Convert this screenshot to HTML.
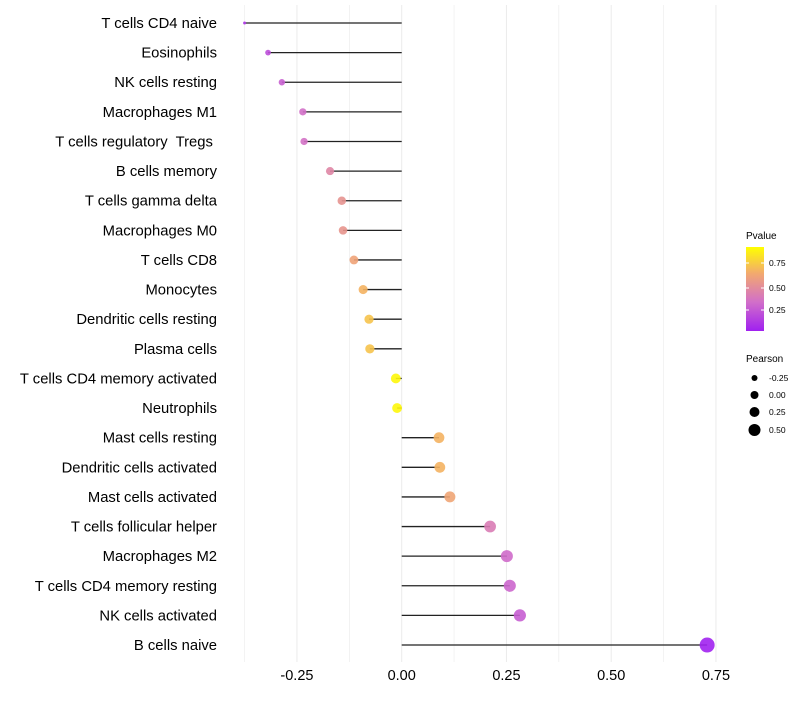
<!DOCTYPE html>
<html><head><meta charset="utf-8"><style>
body{margin:0;background:#fff;font-family:"Liberation Sans",sans-serif;}
text{white-space:pre;}
</style></head><body>
<svg id="chart" width="800" height="700" xmlns="http://www.w3.org/2000/svg">
<defs><linearGradient id="pg" x1="0" y1="1" x2="0" y2="0">
<stop offset="0" stop-color="#a020f0"/><stop offset="0.35" stop-color="#d270c8"/><stop offset="0.68" stop-color="#f2a870"/><stop offset="1" stop-color="#ffff00"/></linearGradient></defs>
<g id="grid"></g><g id="marks"></g><g id="labels"></g>
<g font-size="10">
<text x="746" y="239" fill="#000">Pvalue</text>
<rect x="746" y="247" width="18" height="84" fill="url(#pg)"/>
<line x1="746" y1="263" x2="749" y2="263" stroke="#fff"/><line x1="761" y1="263" x2="764" y2="263" stroke="#fff"/>
<line x1="746" y1="288" x2="749" y2="288" stroke="#fff"/><line x1="761" y1="288" x2="764" y2="288" stroke="#fff"/>
<line x1="746" y1="310" x2="749" y2="310" stroke="#fff"/><line x1="761" y1="310" x2="764" y2="310" stroke="#fff"/>
<text x="769" y="266" font-size="8.5">0.75</text><text x="769" y="291" font-size="8.5">0.50</text><text x="769" y="313" font-size="8.5">0.25</text>
</g>
<g font-size="10">
<text x="746" y="362" fill="#000">Pearson</text>
<circle cx="754.5" cy="378" r="3"/><text x="769" y="381" font-size="8.5">-0.25</text>
<circle cx="754.5" cy="395" r="4"/><text x="769" y="398" font-size="8.5">0.00</text>
<circle cx="754.5" cy="412" r="5"/><text x="769" y="415" font-size="8.5">0.25</text>
<circle cx="754.5" cy="430" r="6"/><text x="769" y="433" font-size="8.5">0.50</text>
</g>
</svg>
<script>
const categories=["T cells CD4 naive","Eosinophils","NK cells resting","Macrophages M1","T cells regulatory  Tregs ","B cells memory","T cells gamma delta","Macrophages M0","T cells CD8","Monocytes","Dendritic cells resting","Plasma cells","T cells CD4 memory activated","Neutrophils","Mast cells resting","Dendritic cells activated","Mast cells activated","T cells follicular helper","Macrophages M2","T cells CD4 memory resting","NK cells activated","B cells naive"];
const pearson=[-0.375,-0.319,-0.286,-0.236,-0.233,-0.171,-0.143,-0.14,-0.114,-0.092,-0.078,-0.076,-0.014,-0.011,0.089,0.091,0.115,0.211,0.251,0.258,0.282,0.729];
const pvalue=[0.1,0.2,0.28,0.35,0.36,0.48,0.56,0.57,0.65,0.72,0.78,0.78,0.97,0.97,0.72,0.72,0.66,0.42,0.33,0.31,0.27,0.01];
const xTicks=[-0.25,0,0.25,0.5,0.75];
const xTickLabels=["-0.25","0.00","0.25","0.50","0.75"];
const NS="http://www.w3.org/2000/svg";
const x=v=>401.7+v*419;
const y=i=>23+i*29.62;
const stops=[[0,[160,32,240]],[0.35,[210,112,200]],[0.68,[242,168,112]],[1,[255,255,0]]];
function col(p){for(let k=1;k<stops.length;k++){if(p<=stops[k][0]){const a=stops[k-1],b=stops[k],t=(p-a[0])/(b[0]-a[0]);return "rgb("+a[1].map((c,j)=>Math.round(c+(b[1][j]-c)*t)).join(",")+")";}}return "rgb(255,255,0)";}
const mn=Math.min(...pearson),mx=Math.max(...pearson);
const rad=v=>1.5+6*Math.sqrt((v-mn)/(mx-mn));
function el(t,a,p){const e=document.createElementNS(NS,t);for(const k in a)e.setAttribute(k,a[k]);p.appendChild(e);return e;}
const grid=document.getElementById('grid'),marks=document.getElementById('marks'),labels=document.getElementById('labels');
for(let v=-0.375;v<=0.76;v+=0.125){const g=el('line',{x1:x(v),x2:x(v),y1:5,y2:662,stroke:'#ebebeb','stroke-width':Math.abs((v*8)%2)<0.01?1:0.6},grid);

}
xTicks.forEach((v,i)=>{const t=el('text',{x:x(v),y:680,'text-anchor':'middle','font-size':14.5,fill:'#000'},labels);t.textContent=xTickLabels[i];

});
categories.forEach((c,i)=>{
const t=el('text',{x:217,y:y(i)+5,'text-anchor':'end','font-size':14.8,fill:'#000'},labels);t.textContent=c;


const l=el('line',{x1:x(0),x2:x(pearson[i]),y1:y(i),y2:y(i),stroke:'#222','stroke-width':1.3},marks);


const p=el('circle',{cx:x(pearson[i]),cy:y(i),r:rad(pearson[i]),fill:col(pvalue[i]),'fill-opacity':0.9},marks);


});
</script>
</body></html>
